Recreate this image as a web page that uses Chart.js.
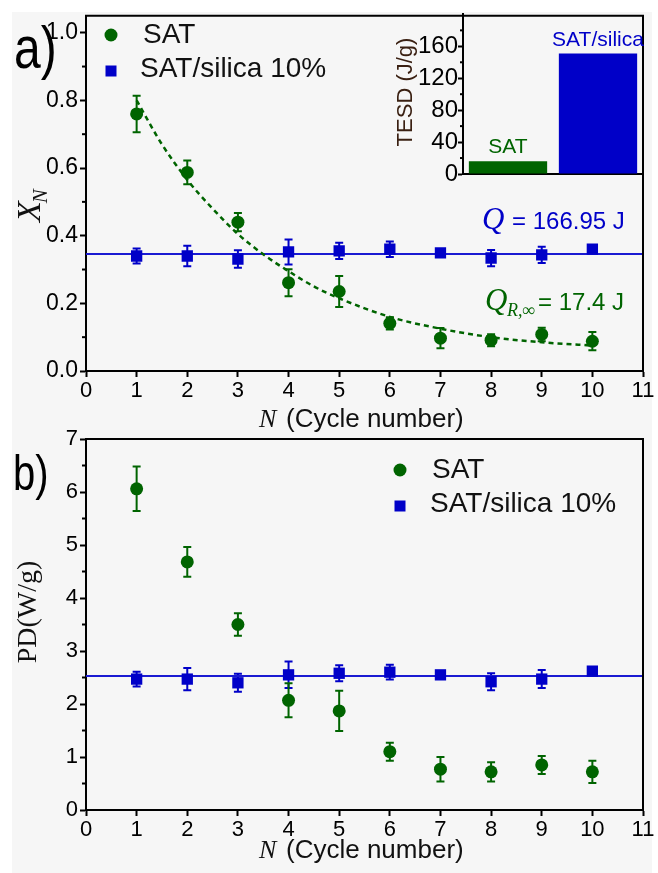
<!DOCTYPE html>
<html>
<head>
<meta charset="utf-8">
<title>SAT cycling</title>
<script src="https://cdn.jsdelivr.net/npm/chart.js@4.4.1/dist/chart.umd.min.js"></script>
<style>
  body { margin: 0; background: #fff; overflow: hidden; }
  #page { position: relative; width: 658px; height: 873px; }
  #paper { position: absolute; left: 12px; top: 12px; width: 640px; height: 861px; background: #f6f6f6; }
  canvas { position: absolute; }
</style>
</head>
<body>
<div id="page">
  <div id="paper"></div>
  <canvas id="chartA" width="658" height="432" style="left:0;top:0"></canvas>
  <canvas id="chartB" width="658" height="453" style="left:0;top:420px"></canvas>
  <canvas id="chartInset" width="270" height="200" style="left:380px;top:0"></canvas>
</div>
<script>
// ---- data ----
var cycles = [1, 2, 3, 4, 5, 6, 7, 8, 9, 10];
var xTicks = [0, 1, 2, 3, 4, 5, 6, 7, 8, 9, 10, 11];

// panel a: X_N
var satX = [0.76, 0.587, 0.44, 0.261, 0.235, 0.141, 0.097, 0.091, 0.108, 0.088];
var satXErr = [0.054, 0.035, 0.027, 0.04, 0.046, 0.018, 0.03, 0.018, 0.02, 0.027];
var silicaX = [0.34, 0.34, 0.331, 0.352, 0.355, 0.36, 0.349, 0.334, 0.343, 0.36];
var silicaXErr = [0.022, 0.03, 0.026, 0.037, 0.024, 0.023, 0.01, 0.024, 0.024, 0.01];
var silicaXMean = 0.346;
var fitN = [1, 1.5, 2, 2.5, 3, 3.5, 4, 4.5, 5, 6, 7, 8, 9, 10];
var fitX = [0.80, 0.67, 0.565, 0.48, 0.405, 0.345, 0.295, 0.25, 0.215, 0.16, 0.125, 0.10, 0.085, 0.075];
var yTicksA = [0, 0.2, 0.4, 0.6, 0.8, 1.0];
var yMinorA = [0.1, 0.3, 0.5, 0.7, 0.9];

// panel b: PD (W/g)
var satPD = [6.06, 4.68, 3.5, 2.07, 1.87, 1.1, 0.77, 0.72, 0.85, 0.72];
var satPDErr = [0.42, 0.28, 0.21, 0.32, 0.38, 0.17, 0.23, 0.18, 0.17, 0.21];
var silicaPD = [2.47, 2.47, 2.4, 2.55, 2.58, 2.6, 2.55, 2.42, 2.47, 2.62];
var silicaPDErr = [0.14, 0.21, 0.17, 0.25, 0.15, 0.14, 0.05, 0.16, 0.17, 0.07];
var silicaPDMean = 2.53;
var yTicksB = [0, 1, 2, 3, 4, 5, 6, 7];
var yMinorB = [0.5, 1.5, 2.5, 3.5, 4.5, 5.5, 6.5];

// inset: TESD
var tesdLabels = ['SAT', 'SAT/silica'];
var tesdValues = [16, 151];
var yTicksInset = [0, 40, 80, 120, 160];
var yMinorInset = [20, 60, 100, 140, 180];

var meanSpan = [0, 11];

// ---- styles ----
var green = '#006400';
var blue = '#0000c8';
var lineBlue = '#1a1ad2';
var sans = '"Liberation Sans", Arial, sans-serif';
var serif = '"Liberation Serif", "Times New Roman", serif';

Chart.defaults.font.family = sans;
Chart.defaults.color = '#000';

function pts(xs, ys) {
  return xs.map(function (x, i) { return { x: x, y: ys[i] }; });
}

function fixedTicks(list) {
  return function (s) { s.ticks = list.map(function (v) { return { value: v }; }); };
}

function xAxis(h) {
  return {
    type: 'linear', min: 0, max: 11,
    afterBuildTicks: fixedTicks(xTicks),
    afterFit: function (s) { s.height = h; },
    ticks: { font: { size: 22 }, color: '#000', padding: 1 },
    grid: { drawOnChartArea: false, tickLength: 6, tickColor: '#000', tickWidth: 2 },
    border: { color: '#000', width: 2 }
  };
}

function yAxis(min, max, list, size, fmt) {
  return {
    type: 'linear', min: min, max: max,
    afterBuildTicks: fixedTicks(list),
    afterFit: function (s) { s.width = 86; },
    ticks: { font: { size: size }, color: '#000', padding: 2, callback: fmt },
    grid: { drawOnChartArea: false, tickLength: 6, tickColor: '#000', tickWidth: 2 },
    border: { color: '#000', width: 2 }
  };
}

function drawErrorBars(chart, xs, ys, errs, color) {
  var ctx = chart.ctx, xS = chart.scales.x, yS = chart.scales.y;
  ctx.save();
  ctx.strokeStyle = color;
  ctx.lineWidth = 2;
  xs.forEach(function (n, i) {
    var px = xS.getPixelForValue(n);
    var top = yS.getPixelForValue(ys[i] + errs[i]);
    var bot = yS.getPixelForValue(ys[i] - errs[i]);
    ctx.beginPath();
    ctx.moveTo(px, top); ctx.lineTo(px, bot);
    ctx.moveTo(px - 4, top); ctx.lineTo(px + 4, top);
    ctx.moveTo(px - 4, bot); ctx.lineTo(px + 4, bot);
    ctx.stroke();
  });
  ctx.restore();
}

function drawMinor(chart, list, len) {
  var ctx = chart.ctx, yS = chart.scales.y, left = chart.chartArea.left;
  ctx.save();
  ctx.strokeStyle = '#000';
  ctx.lineWidth = 2;
  list.forEach(function (v) {
    var py = yS.getPixelForValue(v);
    ctx.beginPath(); ctx.moveTo(left - len, py); ctx.lineTo(left, py); ctx.stroke();
  });
  ctx.restore();
}

function drawFrame(chart) {
  var ctx = chart.ctx, a = chart.chartArea;
  ctx.save();
  ctx.strokeStyle = '#000';
  ctx.lineWidth = 2;
  ctx.beginPath();
  ctx.moveTo(a.left - 1, a.top); ctx.lineTo(a.right, a.top); ctx.lineTo(a.right, a.bottom + 1);
  ctx.stroke();
  ctx.restore();
}

function text(ctx, s, x, y, font, color) {
  ctx.font = font;
  ctx.fillStyle = color || '#000';
  ctx.textAlign = 'left';
  ctx.textBaseline = 'alphabetic';
  ctx.fillText(s, x, y);
  return ctx.measureText(s).width;
}

// tall, narrow panel letter
function panelLetter(ctx, s, x, y, size) {
  ctx.save();
  ctx.translate(x, y);
  ctx.scale(0.8, 1);
  text(ctx, s, 0, 0, size + 'px ' + sans, '#000');
  ctx.restore();
}

function legend(ctx, x, y1, y2, tx1, tx2) {
  ctx.save();
  ctx.fillStyle = green;
  ctx.beginPath(); ctx.arc(x, y1, 6.5, 0, Math.PI * 2); ctx.fill();
  ctx.fillStyle = blue;
  ctx.fillRect(x - 5.5, y2 - 5.5, 11, 11);
  text(ctx, 'SAT', tx1, y1 + 8, '28px ' + sans, '#111');
  text(ctx, 'SAT/silica 10%', tx2, y2 + 6, '28px ' + sans, '#111');
  ctx.restore();
}

function xTitle(ctx, y) {
  ctx.save();
  text(ctx, 'N', 259, y, 'italic 26px ' + serif, '#111');
  text(ctx, '(Cycle number)', 286, y, '26px ' + sans, '#111');
  ctx.restore();
}

function pointSets(satY, silY) {
  return [
    { data: pts(cycles, satY), backgroundColor: green, borderColor: green, borderWidth: 0,
      pointStyle: 'circle', pointRadius: 6.5, order: 0 },
    { data: pts(cycles, silY), backgroundColor: blue, borderColor: blue, borderWidth: 0,
      pointStyle: 'rect', pointRadius: 8, order: 1 }
  ];
}

function meanLine(v) {
  return { data: pts(meanSpan, [v, v]), showLine: true, borderColor: lineBlue, borderWidth: 2,
    pointRadius: 0, order: 3 };
}

var common = {
  responsive: false, animation: false, events: [],
  plugins: { legend: { display: false }, tooltip: { enabled: false } }
};

// ---- panel a ----
var decorA = {
  id: 'decorA',
  beforeDatasetsDraw: function (chart) {
    drawErrorBars(chart, cycles, silicaX, silicaXErr, blue);
    drawErrorBars(chart, cycles, satX, satXErr, green);
  },
  afterDraw: function (chart) {
    var ctx = chart.ctx;
    drawFrame(chart);
    drawMinor(chart, yMinorA, 4);
    ctx.save();
    panelLetter(ctx, 'a)', 14, 68, 60);
    legend(ctx, 111, 35, 71, 143, 140);
    text(ctx, 'Q', 482, 229, 'italic 31px ' + serif, blue);
    text(ctx, '= 166.95 J', 512, 229, '24px ' + sans, blue);
    text(ctx, 'Q', 485, 310, 'italic 31px ' + serif, green);
    text(ctx, 'R,\u221e', 507, 316, 'italic 18px ' + serif, green);
    text(ctx, '= 17.4 J', 538, 310, '24px ' + sans, green);
    xTitle(ctx, 427);
    // rotated X_N
    ctx.translate(40, 222);
    ctx.rotate(-Math.PI / 2);
    var w = text(ctx, 'X', 0, 0, 'italic 34px ' + serif, '#111');
    text(ctx, 'N', w - 2, 7, 'italic 21px ' + serif, '#111');
    ctx.restore();
  }
};

var dsA = pointSets(satX, silicaX);
dsA.push({ data: pts(fitN, fitX), showLine: true, borderColor: green, borderWidth: 2.5,
  borderDash: [5, 4], pointRadius: 0, tension: 0.4, cubicInterpolationMode: 'monotone', order: 2 });
dsA.push(meanLine(silicaXMean));

new Chart('chartA', {
  type: 'scatter',
  data: { datasets: dsA },
  options: Object.assign({}, common, {
    layout: { padding: { top: 13, right: 15, left: 0, bottom: 0 } },
    scales: {
      x: xAxis(61),
      y: yAxis(0, 1.05, yTicksA, 23, function (v) { return v.toFixed(1); })
    }
  }),
  plugins: [decorA]
});

// ---- panel b ----
var decorB = {
  id: 'decorB',
  beforeDatasetsDraw: function (chart) {
    drawErrorBars(chart, cycles, silicaPD, silicaPDErr, blue);
    drawErrorBars(chart, cycles, satPD, satPDErr, green);
  },
  afterDraw: function (chart) {
    var ctx = chart.ctx;
    drawFrame(chart);
    drawMinor(chart, yMinorB, 4);
    ctx.save();
    panelLetter(ctx, 'b)', 13, 70, 50);
    legend(ctx, 400, 50, 86, 432, 430);
    xTitle(ctx, 438);
    ctx.translate(36, 192);
    ctx.rotate(-Math.PI / 2);
    ctx.font = '28px ' + serif;
    ctx.fillStyle = '#111';
    ctx.textAlign = 'center';
    ctx.fillText('PD(W/g)', 0, 0);
    ctx.restore();
  }
};

var dsB = pointSets(satPD, silicaPD);
dsB.push(meanLine(silicaPDMean));

new Chart('chartB', {
  type: 'scatter',
  data: { datasets: dsB },
  options: Object.assign({}, common, {
    layout: { padding: { top: 19, right: 15, left: 0, bottom: 0 } },
    scales: {
      x: xAxis(63),
      y: yAxis(0, 7, yTicksB, 22, function (v) { return String(v); })
    }
  }),
  plugins: [decorB]
});

// ---- inset ----
var decorInset = {
  id: 'decorInset',
  afterDraw: function (chart) {
    var ctx = chart.ctx;
    drawMinor(chart, yMinorInset, 3);
    ctx.save();
    var meta = chart.getDatasetMeta(0);
    meta.data.forEach(function (bar, i) {
      ctx.font = '21px ' + sans;
      ctx.fillStyle = i === 0 ? green : blue;
      ctx.textAlign = 'center';
      ctx.textBaseline = 'alphabetic';
      ctx.fillText(tesdLabels[i], bar.x, bar.y - 8);
    });
    ctx.translate(32, 92);
    ctx.rotate(-Math.PI / 2);
    ctx.font = '22px ' + sans;
    ctx.fillStyle = '#3a2012';
    ctx.textAlign = 'center';
    ctx.fillText('TESD (J/g)', 0, 0);
    ctx.restore();
  }
};

new Chart('chartInset', {
  type: 'bar',
  data: {
    labels: tesdLabels,
    datasets: [{ data: tesdValues, backgroundColor: [green, blue], borderWidth: 0,
      barPercentage: 0.87, categoryPercentage: 1 }]
  },
  options: Object.assign({}, common, {
    layout: { padding: { top: 13, right: 7, left: 0, bottom: 0 } },
    scales: {
      x: {
        afterFit: function (s) { s.height = 26; },
        ticks: { display: false },
        grid: { display: false },
        border: { color: '#000', width: 2 }
      },
      y: {
        min: 0, max: 200,
        afterBuildTicks: fixedTicks(yTicksInset),
        afterFit: function (s) { s.width = 83; },
        ticks: { font: { size: 24 }, color: '#000', padding: 0 },
        grid: { drawOnChartArea: false, tickLength: 5, tickColor: '#000', tickWidth: 2 },
        border: { color: '#000', width: 2 }
      }
    }
  }),
  plugins: [decorInset]
});
</script>
</body>
</html>
